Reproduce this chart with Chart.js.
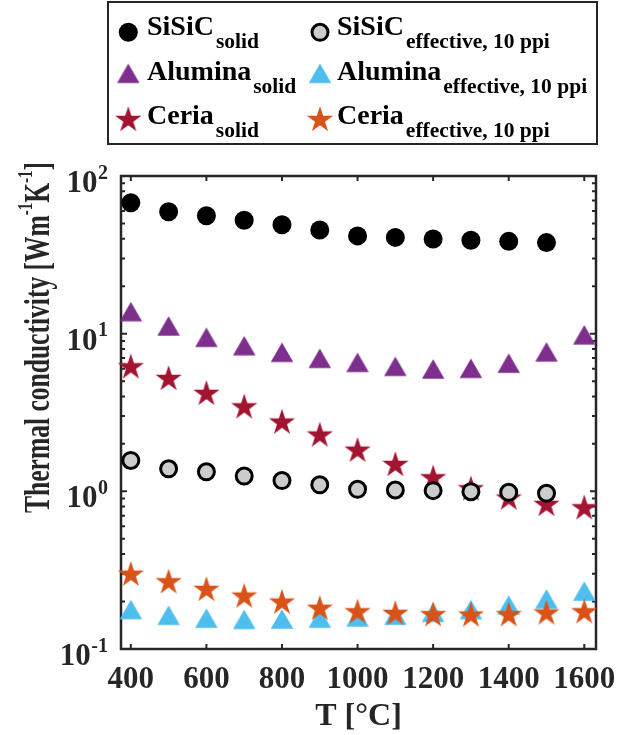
<!DOCTYPE html>
<html>
<head>
<meta charset="utf-8">
<script src="https://cdn.jsdelivr.net/npm/chart.js@4.4.1/dist/chart.umd.min.js"></script>
<style>
  html, body { margin: 0; padding: 0; background: #fff; }
  canvas { display: block; }
</style>
</head>
<body>
<canvas id="chart" width="617" height="735"></canvas>
<script>
// temperatures in °C, conductivities in W m^-1 K^-1
const temps = [400, 500, 600, 700, 800, 900, 1000, 1100, 1200, 1300, 1400, 1500, 1600];
const sisicSolid = [67.7, 59.4, 56.0, 52.4, 49.1, 45.5, 41.7, 40.8, 39.9, 39.1, 38.5, 37.8];
const sisicEffective = [1.57, 1.39, 1.33, 1.25, 1.17, 1.10, 1.03, 1.02, 1.01, 0.995, 0.986, 0.972];
const aluminaSolid = [13.8, 11.2, 9.49, 8.39, 7.62, 6.98, 6.58, 6.21, 5.97, 6.03, 6.50, 7.67, 9.84];
const aluminaEffective = [0.178, 0.164, 0.157, 0.154, 0.155, 0.157, 0.160, 0.164, 0.171, 0.178, 0.190, 0.208, 0.233];
const ceriaSolid = [6.12, 5.16, 4.15, 3.41, 2.73, 2.26, 1.81, 1.47, 1.21, 1.03, 0.899, 0.820, 0.781];
const ceriaEffective = [0.296, 0.265, 0.237, 0.215, 0.197, 0.180, 0.171, 0.167, 0.164, 0.163, 0.164, 0.168, 0.171];

const xTicks = [400, 600, 800, 1000, 1200, 1400, 1600];
const yExponents = [-1, 0, 1, 2];

const AXIS = '#262626';
const FONT = '"Liberation Serif", "Times New Roman", serif';

const colors = {
  purple: '#7E2F8E',
  cyan: '#4DBEEE',
  crimson: '#A2142F',
  orange: '#D95319',
  gray: '#CCCCCC'
};

// marker glyphs (Chart.js has no filled pentagram)
function makeMarker(size, draw) {
  const c = document.createElement('canvas');
  c.width = c.height = size;
  draw(c.getContext('2d'), size / 2, size / 2);
  return c;
}
function triangle(color) {
  return makeMarker(28, (g, cx, cy) => {
    const w = 22.5, h = 19.5;
    g.beginPath();
    g.moveTo(cx, cy - h / 2);
    g.lineTo(cx + w / 2, cy + h / 2);
    g.lineTo(cx - w / 2, cy + h / 2);
    g.closePath();
    g.fillStyle = color;
    g.fill();
  });
}
function star(color) {
  return makeMarker(30, (g, cx, cy) => {
    const R = 13.8, r = R * 0.382;
    g.beginPath();
    for (let i = 0; i < 10; i++) {
      const a = -Math.PI / 2 + i * Math.PI / 5;
      const d = i % 2 ? r : R;
      g.lineTo(cx + d * Math.cos(a), cy + d * Math.sin(a));
    }
    g.closePath();
    g.fillStyle = color;
    g.fill();
  });
}

const markers = {
  aluSolid: triangle(colors.purple),
  aluEff: triangle(colors.cyan),
  ceSolid: star(colors.crimson),
  ceEff: star(colors.orange)
};

const pts = ys => ys.map((y, i) => ({ x: temps[i], y }));

function imageSet(label, ys, img) {
  return {
    label, data: pts(ys), pointStyle: img, pointRadius: 12, clip: false
  };
}

// first dataset is painted last (on top)
const datasets = [
  {
    label: 'SiSiC effective', data: pts(sisicEffective), pointStyle: 'circle',
    pointRadius: 8, pointBorderWidth: 3, pointBorderColor: '#000',
    pointBackgroundColor: colors.gray, clip: false
  },
  imageSet('Ceria effective', ceriaEffective, markers.ceEff),
  imageSet('Alumina effective', aluminaEffective, markers.aluEff),
  imageSet('Ceria solid', ceriaSolid, markers.ceSolid),
  imageSet('Alumina solid', aluminaSolid, markers.aluSolid),
  {
    label: 'SiSiC solid', data: pts(sisicSolid), pointStyle: 'circle',
    pointRadius: 9.5, pointBorderWidth: 0, pointBackgroundColor: '#000', clip: false
  }
];

const legendItems = [
  { main: 'SiSiC', sub: 'solid', mark: 'dot' },
  { main: 'SiSiC', sub: 'effective, 10 ppi', mark: 'ring' },
  { main: 'Alumina', sub: 'solid', mark: markers.aluSolid },
  { main: 'Alumina', sub: 'effective, 10 ppi', mark: markers.aluEff },
  { main: 'Ceria', sub: 'solid', mark: markers.ceSolid },
  { main: 'Ceria', sub: 'effective, 10 ppi', mark: markers.ceEff }
];

function drawMark(ctx, mark, x, y) {
  if (mark === 'dot') {
    ctx.beginPath(); ctx.arc(x, y, 9.5, 0, Math.PI * 2);
    ctx.fillStyle = '#000'; ctx.fill();
  } else if (mark === 'ring') {
    ctx.beginPath(); ctx.arc(x, y, 8, 0, Math.PI * 2);
    ctx.fillStyle = colors.gray; ctx.fill();
    ctx.lineWidth = 3; ctx.strokeStyle = '#000'; ctx.stroke();
  } else {
    ctx.drawImage(mark, x - mark.width / 2, y - mark.height / 2);
  }
}

const frame = {
  id: 'frame',
  beforeDatasetsDraw(chart) {
    const { ctx, chartArea: a, scales: { x, y } } = chart;
    ctx.save();
    ctx.strokeStyle = AXIS;
    ctx.lineWidth = 2;
    ctx.beginPath();
    xTicks.forEach(t => {
      const px = x.getPixelForValue(t);
      ctx.moveTo(px, a.bottom); ctx.lineTo(px, a.bottom - 5);
      ctx.moveTo(px, a.top); ctx.lineTo(px, a.top + 5);
    });
    yExponents.forEach(e => {
      for (let d = 1; d <= 9; d++) {
        const v = d * Math.pow(10, e);
        if (v > 100) break;
        const py = y.getPixelForValue(v);
        const len = d === 1 ? 6 : 4;
        ctx.moveTo(a.left, py); ctx.lineTo(a.left + len, py);
        ctx.moveTo(a.right, py); ctx.lineTo(a.right - len, py);
      }
    });
    ctx.stroke();
    ctx.lineWidth = 2.5;
    ctx.strokeRect(a.left, a.top, a.right - a.left, a.bottom - a.top);
    ctx.restore();
  },
  afterDraw(chart) {
    const { ctx, chartArea: a, scales: { x, y } } = chart;
    ctx.save();
    ctx.fillStyle = AXIS;

    // x tick labels
    ctx.font = `bold 31px ${FONT}`;
    ctx.textAlign = 'center';
    ctx.textBaseline = 'alphabetic';
    xTicks.forEach(t => ctx.fillText(String(t), x.getPixelForValue(t), 688));

    // y tick labels as powers of ten
    ctx.textAlign = 'right';
    yExponents.forEach(e => {
      const py = y.getPixelForValue(Math.pow(10, e));
      ctx.font = `bold 20px ${FONT}`;
      const sup = String(e);
      const ws = ctx.measureText(sup).width;
      ctx.fillText(sup, 108, py + 2.5);
      ctx.font = `bold 31px ${FONT}`;
      ctx.fillText('10', 108 - ws - 0.5, py + 16);
    });

    // x title
    ctx.textAlign = 'center';
    ctx.font = `bold 32px ${FONT}`;
    ctx.fillText('T [°C]', (a.left + a.right) / 2, 725);

    // y title with superscripts, squeezed to the axis height
    const parts = [['Thermal conductivity [Wm', false], ['-1', true], ['K', false], ['-1', true], [']', false]];
    const mainFont = `bold 36px ${FONT}`, supFont = `bold 21px ${FONT}`;
    let total = 0;
    parts.forEach(([s, sup]) => { ctx.font = sup ? supFont : mainFont; total += ctx.measureText(s).width; });
    ctx.translate(49, 513);
    ctx.rotate(-Math.PI / 2);
    ctx.scale(351 / total, 1);
    ctx.textAlign = 'left';
    let cx = 0;
    parts.forEach(([s, sup]) => {
      ctx.font = sup ? supFont : mainFont;
      ctx.fillText(s, cx, sup ? -17 : 0);
      cx += ctx.measureText(s).width;
    });
    ctx.restore();

    // legend box
    ctx.save();
    ctx.fillStyle = '#fff';
    ctx.fillRect(108, 2, 489, 142);
    ctx.strokeStyle = AXIS;
    ctx.lineWidth = 2;
    ctx.strokeRect(108, 2, 489, 142);
    const colMark = [128.3, 320], colText = [147, 337];
    const rowMark = [32.3, 73.3, 120], rowBase = [35, 80, 124];
    legendItems.forEach((it, i) => {
      const c = i % 2, r = Math.floor(i / 2);
      drawMark(ctx, it.mark, colMark[c], rowMark[r]);
      ctx.fillStyle = '#000';
      ctx.textAlign = 'left';
      ctx.font = `bold 28px ${FONT}`;
      ctx.fillText(it.main, colText[c], rowBase[r]);
      const w = ctx.measureText(it.main).width;
      ctx.font = `bold 21.5px ${FONT}`;
      ctx.fillText(it.sub, colText[c] + w + 2, rowBase[r] + 13);
    });
    ctx.restore();
  }
};

new Chart(document.getElementById('chart'), {
  type: 'scatter',
  data: { datasets },
  options: {
    responsive: false,
    animation: false,
    devicePixelRatio: 1,
    layout: { padding: { left: 121, right: 21, top: 176, bottom: 86 } },
    scales: {
      x: { type: 'linear', min: 374, max: 1631, display: false },
      y: { type: 'logarithmic', min: 0.1, max: 100, display: false }
    },
    plugins: {
      legend: { display: false },
      tooltip: { enabled: false }
    }
  },
  plugins: [frame]
});
</script>
</body>
</html>
